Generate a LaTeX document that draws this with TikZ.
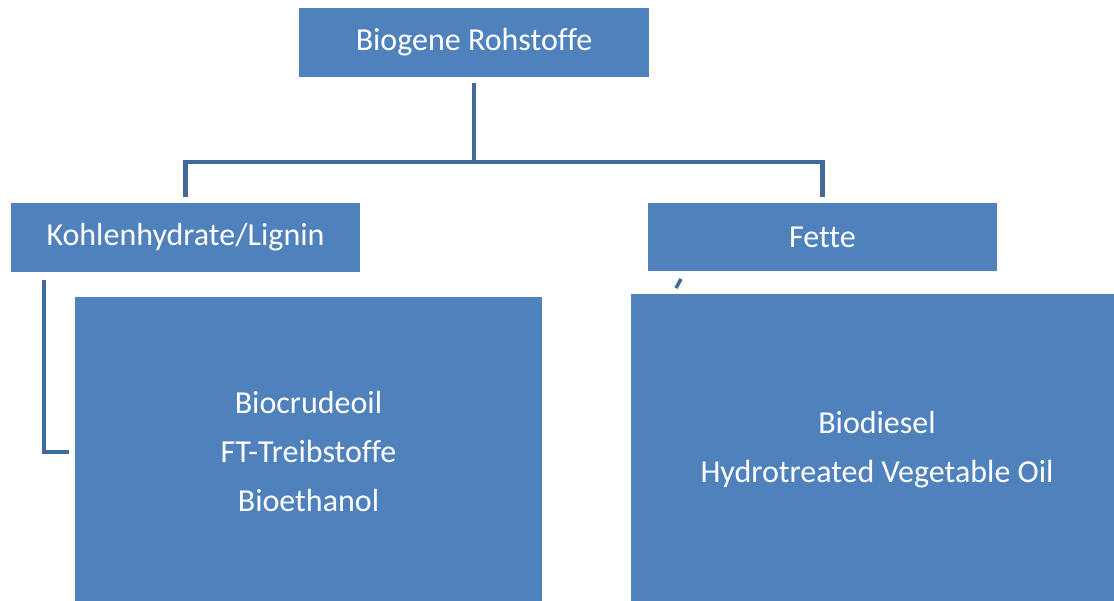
\documentclass[tikz,border=0pt]{standalone}
\usepackage{fontspec}
\setmainfont{Carlito}[Ligatures=NoCommon]
\usepackage{tikz}
\usetikzlibrary{positioning}
\definecolor{boxblue}{HTML}{4F81BD}
\definecolor{lineblue}{HTML}{41699A}
\tikzset{box/.style = {fill=boxblue, text=white, inner sep=0, align=center,
                       font=\fontsize{32}{49}\selectfont}}
\tikzset{conn/.style = {draw=lineblue, line width=4.5pt}}

\begin{document}
\begin{tikzpicture}[x=1pt, y=-1pt]
    \useasboundingbox (0, 0) rectangle (1114, 601);
    \clip (0, 0) rectangle (1114, 601);

    \node [box, minimum width=350pt, minimum height=69pt] (rohstoffe) at (474, 42.5) {Biogene Rohstoffe};
    \node [box, minimum width=349pt, minimum height=69pt] (kohlen) at (185.5, 237.5) {Kohlenhydrate/Lignin};
    \node [box, minimum width=349pt, minimum height=68pt] (fette) at (822.5, 237) {Fette};

    \node [box, minimum width=467pt, minimum height=310pt] (produkteA) at (308.5, 452) {Biocrudeoil\\FT-Treibstoffe\\Bioethanol};
    \node [box, minimum width=492pt, minimum height=311pt] (produkteB) at (877, 449.5) {Biodiesel\\Hydrotreated Vegetable Oil};

    \coordinate (split) at (474, 162);
    \draw [conn] ([yshift=-6pt]rohstoffe.south) -- (split);
    \draw [conn] (split) -- (kohlen.north |- split) -- ([yshift=6pt]kohlen.north);
    \draw [conn] (split) -- (fette.north |- split) -- ([yshift=6pt]fette.north);

    \draw [conn] ([xshift=33pt, yshift=-8pt]kohlen.south west) |- ([xshift=-6pt]produkteA.west);

    \draw [conn, line width=3.5pt] (676, 288) -- (681, 279);
  \end{tikzpicture}
\end{document}
